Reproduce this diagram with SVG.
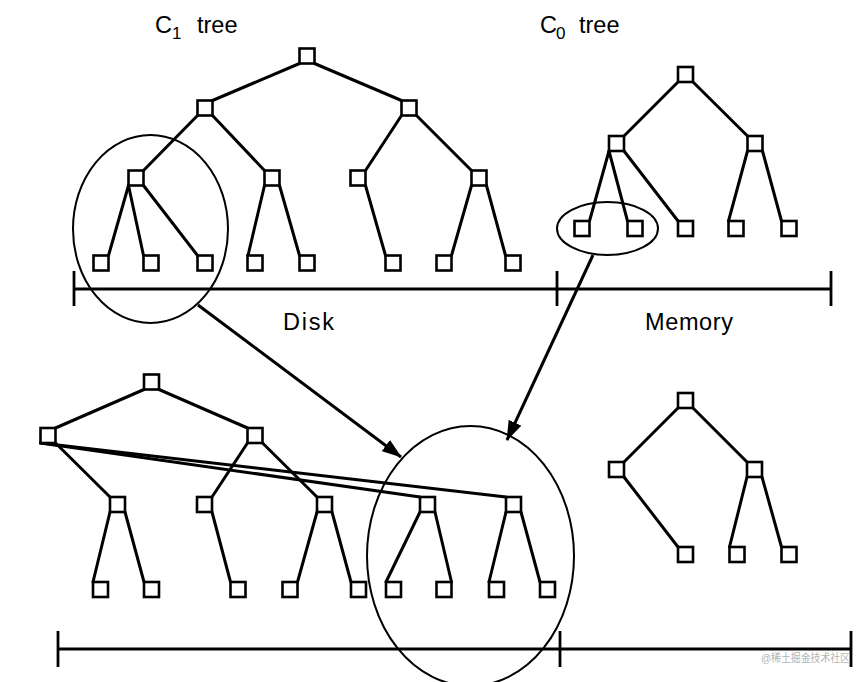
<svg xmlns="http://www.w3.org/2000/svg" width="864" height="682" viewBox="0 0 864 682">
<defs>
<style>
.box{fill:#fff;stroke:#000;stroke-width:2.6}
.edge{stroke:#000;stroke-width:3;fill:none;stroke-linecap:round}
.thin{stroke:#000;stroke-width:2;fill:none}
.axis{stroke:#000;stroke-width:2.8;fill:none}
.arrow{stroke:#000;stroke-width:3;fill:none;marker-end:url(#ah)}
.lbl{font-family:"Liberation Sans",Arial,sans-serif;font-size:23.5px;fill:#000}
.wm{font-family:"Liberation Sans","Noto Sans CJK SC",sans-serif;font-size:11px;fill:#b4b4b4}
</style>
<marker id="ah" markerUnits="userSpaceOnUse" markerWidth="20" markerHeight="14" refX="19" refY="7" orient="auto">
<path d="M0,0 L20,7 L0,14 z" fill="#000"/>
</marker>
<rect id="b" class="box" x="-7.5" y="-7.5" width="15" height="15"/>
</defs>
<rect width="864" height="682" fill="#fff"/>

<!-- labels -->
<text class="lbl" x="155" y="33">C<tspan x="172" dy="6" font-size="17">1</tspan><tspan x="197" dy="-6">tree</tspan></text>
<text class="lbl" x="540" y="33">C<tspan x="556" dy="6" font-size="17">0</tspan><tspan x="579" dy="-6">tree</tspan></text>
<text class="lbl" x="283" y="330" textLength="51" lengthAdjust="spacing">Disk</text>
<text class="lbl" x="645" y="330" textLength="88" lengthAdjust="spacing">Memory</text>

<!-- axes -->
<g id="axis-top">
<line class="axis" x1="74" y1="289" x2="831" y2="289"/>
<line class="axis" x1="74" y1="271" x2="74" y2="306"/>
<line class="axis" x1="557" y1="271" x2="557" y2="306"/>
<line class="axis" x1="831" y1="271" x2="831" y2="306"/>
</g>
<g id="axis-bottom">
<line class="axis" x1="58" y1="649" x2="851" y2="649"/>
<line class="axis" x1="58" y1="631" x2="58" y2="667"/>
<line class="axis" x1="560" y1="631" x2="560" y2="667"/>
<line class="axis" x1="851" y1="631" x2="851" y2="667"/>
</g>

<g id="connectors">
<!-- top-left C1 tree -->
<line class="edge" x1="299.5" y1="63.5" x2="212.5" y2="100.5"/>
<line class="edge" x1="314.5" y1="63.5" x2="401.5" y2="100.5"/>
<line class="edge" x1="197.5" y1="115.5" x2="143.5" y2="170.5"/>
<line class="edge" x1="212.5" y1="115.5" x2="264.5" y2="170.5"/>
<line class="edge" x1="401.5" y1="115.5" x2="365.5" y2="170.5"/>
<line class="edge" x1="416.5" y1="115.5" x2="471.5" y2="170.5"/>
<line class="edge" x1="128.5" y1="185.5" x2="108.5" y2="255.5"/>
<line class="edge" x1="128.5" y1="185.5" x2="143.5" y2="255.5"/>
<line class="edge" x1="143.5" y1="185.5" x2="197.5" y2="255.5"/>
<line class="edge" x1="264.5" y1="185.5" x2="248" y2="255.5"/>
<line class="edge" x1="279.5" y1="185.5" x2="299.5" y2="255.5"/>
<line class="edge" x1="365.5" y1="185.5" x2="385.5" y2="255.5"/>
<line class="edge" x1="471.5" y1="185.5" x2="451.5" y2="255.5"/>
<line class="edge" x1="486.5" y1="185.5" x2="505.5" y2="255.5"/>
<!-- top-right C0 tree -->
<line class="edge" x1="678" y1="82" x2="624" y2="136"/>
<line class="edge" x1="693" y1="82" x2="747.5" y2="136"/>
<line class="edge" x1="609" y1="151" x2="589.5" y2="221"/>
<line class="edge" x1="609" y1="151" x2="627.5" y2="221"/>
<line class="edge" x1="624" y1="151" x2="678" y2="221"/>
<line class="edge" x1="747.5" y1="151" x2="728.5" y2="221"/>
<line class="edge" x1="762.5" y1="151" x2="781.5" y2="221"/>
<!-- bottom-left tree -->
<line class="edge" x1="144" y1="389.5" x2="55.5" y2="428"/>
<line class="edge" x1="159" y1="389.5" x2="247.5" y2="428"/>
<line class="edge" x1="55.5" y1="443" x2="110" y2="497"/>
<line class="edge" x1="40.5" y1="443" x2="420" y2="497" stroke-width="2.4"/>
<line class="edge" x1="40.5" y1="443" x2="506" y2="497" stroke-width="2.4"/>
<line class="edge" x1="247.5" y1="443" x2="212" y2="497"/>
<line class="edge" x1="262.5" y1="443" x2="317" y2="497"/>
<line class="edge" x1="110" y1="512" x2="93" y2="582"/>
<line class="edge" x1="125" y1="512" x2="144" y2="582"/>
<line class="edge" x1="212" y1="512" x2="230.5" y2="582"/>
<line class="edge" x1="317" y1="512" x2="297.5" y2="582"/>
<line class="edge" x1="332" y1="512" x2="351" y2="582"/>
<line class="edge" x1="420" y1="512" x2="386" y2="582"/>
<line class="edge" x1="435" y1="512" x2="451.5" y2="582"/>
<line class="edge" x1="506" y1="512" x2="489" y2="582"/>
<line class="edge" x1="521" y1="512" x2="540" y2="582"/>
<!-- bottom-right tree -->
<line class="edge" x1="678" y1="408" x2="624" y2="462"/>
<line class="edge" x1="693" y1="408" x2="747" y2="462"/>
<line class="edge" x1="624" y1="477" x2="678" y2="547"/>
<line class="edge" x1="747" y1="477" x2="729.5" y2="547"/>
<line class="edge" x1="762" y1="477" x2="781.5" y2="547"/>
<!-- merge arrows -->
<line class="arrow" x1="198" y1="305" x2="401" y2="457"/>
<line class="arrow" x1="593" y1="255" x2="507" y2="440"/>
</g>

<!-- ellipses -->
<ellipse class="thin" cx="150.5" cy="229" rx="77.5" ry="94"/>
<ellipse class="thin" cx="607.5" cy="228.5" rx="50.5" ry="26.5"/>
<ellipse class="thin" cx="470.5" cy="556" rx="103.5" ry="130"/>

<!-- C1 tree nodes -->
<g id="c1-root"><use href="#b" x="307" y="56"/></g>
<g id="c1-n1"><use href="#b" x="205" y="108"/></g>
<g id="c1-n2"><use href="#b" x="409" y="108"/></g>
<g id="c1-n11"><use href="#b" x="136" y="178"/></g>
<g id="c1-n12"><use href="#b" x="272" y="178"/></g>
<g id="c1-n21"><use href="#b" x="358" y="178"/></g>
<g id="c1-n22"><use href="#b" x="479" y="178"/></g>
<g id="c1-l1"><use href="#b" x="101" y="263"/></g>
<g id="c1-l2"><use href="#b" x="151" y="263"/></g>
<g id="c1-l3"><use href="#b" x="205" y="263"/></g>
<g id="c1-l4"><use href="#b" x="255" y="263"/></g>
<g id="c1-l5"><use href="#b" x="307" y="263"/></g>
<g id="c1-l6"><use href="#b" x="393" y="263"/></g>
<g id="c1-l7"><use href="#b" x="444" y="263"/></g>
<g id="c1-l8"><use href="#b" x="513" y="263"/></g>

<!-- C0 tree nodes -->
<g id="c0-root"><use href="#b" x="685.5" y="74.5"/></g>
<g id="c0-n1"><use href="#b" x="616.5" y="143.5"/></g>
<g id="c0-n2"><use href="#b" x="755" y="143.5"/></g>
<g id="c0-l1"><use href="#b" x="582" y="228.5"/></g>
<g id="c0-l2"><use href="#b" x="635" y="228.5"/></g>
<g id="c0-l3"><use href="#b" x="685.5" y="228.5"/></g>
<g id="c0-l4"><use href="#b" x="736" y="228.5"/></g>
<g id="c0-l5"><use href="#b" x="789" y="228.5"/></g>

<!-- new C1 tree nodes -->
<g id="n1-root"><use href="#b" x="151.5" y="382"/></g>
<g id="n1-n1"><use href="#b" x="48" y="435.5"/></g>
<g id="n1-n2"><use href="#b" x="255" y="435.5"/></g>
<g id="n1-n11"><use href="#b" x="117.5" y="504.5"/></g>
<g id="n1-n21"><use href="#b" x="204.5" y="504.5"/></g>
<g id="n1-n22"><use href="#b" x="324.5" y="504.5"/></g>
<g id="n1-n13"><use href="#b" x="427.5" y="504.5"/></g>
<g id="n1-n14"><use href="#b" x="513.5" y="504.5"/></g>
<g id="n1-l1"><use href="#b" x="100.5" y="589.5"/></g>
<g id="n1-l2"><use href="#b" x="151.5" y="589.5"/></g>
<g id="n1-l3"><use href="#b" x="238" y="589.5"/></g>
<g id="n1-l4"><use href="#b" x="290" y="589.5"/></g>
<g id="n1-l5"><use href="#b" x="358.5" y="589.5"/></g>
<g id="n1-l6"><use href="#b" x="393.5" y="589.5"/></g>
<g id="n1-l7"><use href="#b" x="444" y="589.5"/></g>
<g id="n1-l8"><use href="#b" x="496.5" y="589.5"/></g>
<g id="n1-l9"><use href="#b" x="547.5" y="589.5"/></g>

<!-- new C0 tree nodes -->
<g id="n0-root"><use href="#b" x="685.5" y="400.5"/></g>
<g id="n0-n1"><use href="#b" x="616.5" y="469.5"/></g>
<g id="n0-n2"><use href="#b" x="754.5" y="469.5"/></g>
<g id="n0-l1"><use href="#b" x="685.5" y="554.5"/></g>
<g id="n0-l2"><use href="#b" x="737" y="554.5"/></g>
<g id="n0-l3"><use href="#b" x="789" y="554.5"/></g>

<text class="wm" x="761" y="662" textLength="89" lengthAdjust="spacingAndGlyphs">@稀土掘金技术社区</text>
</svg>
